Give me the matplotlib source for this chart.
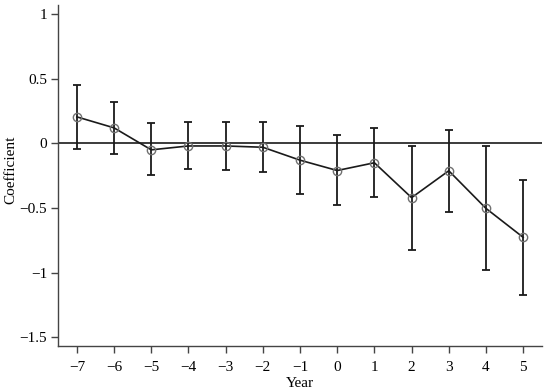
import matplotlib
matplotlib.use("Agg")
import matplotlib.pyplot as plt

years = [-7, -6, -5, -4, -3, -2, -1, 0, 1, 2, 3, 4, 5]
coef = [0.205, 0.12, -0.05, -0.02, -0.02, -0.03, -0.13, -0.21, -0.15, -0.42, -0.212, -0.503, -0.727]
upper = [0.45, 0.32, 0.155, 0.167, 0.162, 0.162, 0.136, 0.067, 0.118, -0.02, 0.105, -0.02, -0.284]
lower = [-0.04, -0.08, -0.245, -0.2, -0.207, -0.222, -0.392, -0.48, -0.415, -0.825, -0.531, -0.98, -1.173]
xticks = years
yticks = [-1.5, -1, -0.5, 0, 0.5, 1]
ytick_labels = ["\u22121.5", "\u22121", "\u22120.5", "0", "0.5", "1"]
xtick_labels = [("\u2212" + str(-v)) if v < 0 else str(v) for v in years]

plt.rcParams['font.family'] = ['Liberation Serif', 'DejaVu Serif']
plt.rcParams['font.size'] = 11

fig = plt.figure(figsize=(5.5, 3.91), dpi=100)
ax = fig.add_axes([0.106, 0.116, 0.879, 0.871])

yerr = [[c - l for c, l in zip(coef, lower)], [u - c for u, c in zip(upper, coef)]]
ax.axhline(0, color='#1a1a1a', lw=1.2, zorder=1)
ax.errorbar(years, coef, yerr=yerr, fmt='none', ecolor='#1a1a1a', elinewidth=1.3,
            capsize=3, capthick=1.3, zorder=2)
ax.plot(years, coef, color='#1a1a1a', lw=1.2, marker='o', ms=6,
        mfc='none', mec='#707070', mew=1.0, zorder=3)

ax.set_xlim(-7.5, 5.5)
ax.set_ylim(-1.565, 1.07)
ax.set_xticks(xticks)
ax.set_xticklabels(xtick_labels)
ax.set_yticks(yticks)
ax.set_yticklabels(ytick_labels)
ax.set_xlabel("Year", labelpad=2)
ax.set_ylabel("Coefficient")
ax.yaxis.set_label_coords(-0.085, 0.515)
for s in ['top', 'right']:
    ax.spines[s].set_visible(False)
for s in ['left', 'bottom']:
    ax.spines[s].set_color('#444444')
    ax.spines[s].set_linewidth(1.0)
ax.tick_params(direction='out', length=5, width=1, color='#444444')
ax.tick_params(axis='x', pad=6)
ax.tick_params(axis='y', pad=3)

fig.savefig("out.png", dpi=100)
